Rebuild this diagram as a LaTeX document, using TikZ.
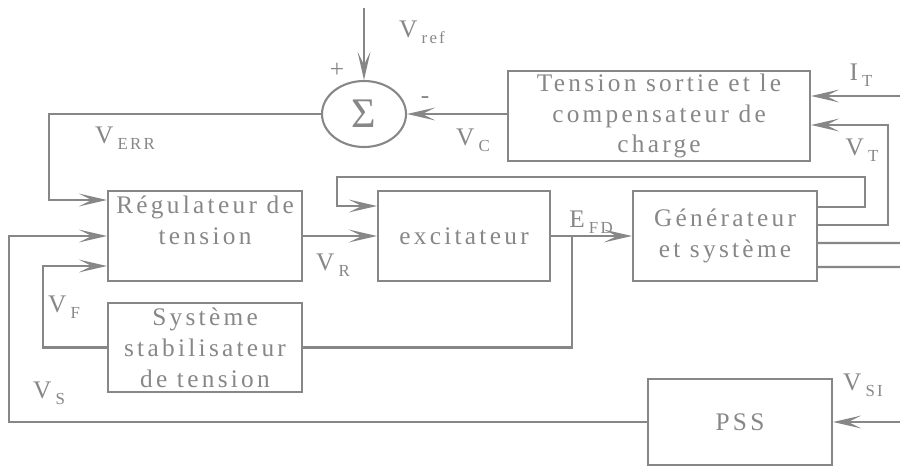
\documentclass[tikz,border=0pt]{standalone}
\usepackage{fontspec}
\setmainfont[LetterSpace=13]{Liberation Serif}
\usepackage{xcolor}
\usepackage{tikz}
\usetikzlibrary{arrows.meta}
\usetikzlibrary{shapes.geometric}
\usetikzlibrary{calc}
\definecolor{trait}{RGB}{135,135,135}
\newcommand{\sig}[2]{#1\,\raisebox{-0.5ex}{\fontsize{12}{14}\selectfont #2}}
\tikzset{
  bloc/.style={draw=trait, line width=1.5pt, text=trait, align=center, minimum width=#1, minimum height=2.25cm, inner sep=0pt, font=\fontsize{18}{22}\selectfont},
  bloc/.default=4.6cm,
  somme/.style={draw=trait, line width=1.5pt, ellipse, minimum width=2.1cm, minimum height=1.65cm, text=trait, inner sep=0pt},
  fleche/.style={draw=trait, line width=1.5pt, -{Stealth[length=7mm,width=3.2mm,inset=3.2mm]}},
  ligne/.style={draw=trait, line width=1.5pt},
  signal/.style={text=trait, font=\fontsize{18}{20}\selectfont, inner sep=0pt},
}

\begin{document}
\begin{tikzpicture}
  \useasboundingbox (0,0) rectangle (22.5,11.65);
  % blocs
  \node[somme] (sum) at (9.1,8.8) {\fontsize{30}{32}\selectfont Σ};
  \node[bloc=7.55cm] (tens) at (16.475,8.75) {Tension sortie et le\\compensateur de\\charge};
  \node[bloc=4.85cm] (reg) at (5.125,5.75) {Régulateur de\\tension\\~};
  \node[bloc=4.3cm] (exc) at (11.6,5.75) {excitateur};
  \node[bloc=4.6cm] (gen) at (18.125,5.75) {Générateur\\et système};
  \node[bloc=4.85cm, minimum height=2.225cm] (stab) at (5.125,2.9625) {Système\\stabilisateur\\de tension};
  \node[bloc=4.6cm, minimum height=2.15cm] (pss) at (18.5,1.1) {PSS};

  % signaux
  \node[signal] (lref) at (10.55,10.85) {\sig{V}{ref}};
  \node[signal] (plus) at (8.425,9.9) {+};
  \node[signal] (moins) at (10.625,9.15) {-};
  \node[signal] (lerr) at (3.125,8.2) {\sig{V}{ERR}};
  \node[signal] (lc) at (11.825,8.15) {\sig{V}{C}};
  \node[signal] (lit) at (21.525,9.775) {\sig{I}{T}};
  \node[signal] (lvt) at (21.55,7.9) {\sig{V}{T}};
  \node[signal] (lfd) at (14.775,6.1) {\sig{E}{FD}};
  \node[signal] (lr) at (8.325,5.025) {\sig{V}{R}};
  \node[signal] (lf) at (1.6,3.975) {\sig{V}{F}};
  \node[signal] (ls) at (1.225,1.825) {\sig{V}{S}};
  \node[signal] (lsi) at (21.575,2.025) {\sig{V}{SI}};

  % entrees libres
  \coordinate (vref) at (9.1,11.45);
  \coordinate (it) at (22.5,9.25);
  \coordinate (vsi) at (22.5,1.1);
  \coordinate (sort1) at (22.5,5.575);
  \coordinate (sort2) at (22.5,4.975);

  % liaisons
  \draw[fleche] (vref) -- (sum.north);
  \draw[fleche] (tens.west |- sum.east) -- (sum.east);
  \draw[fleche] (sum.west) -| (1.225,6.65) -- ($(reg.west)+(0,0.9)$);
  \draw[fleche] (pss.west) -| (0.225,5.75) -- (reg.west);
  \draw[fleche] (stab.west) -| (1.075,5.0) -- ($(reg.west)+(0,-0.75)$);
  \draw[fleche] (reg.east) -- (exc.west);
  \draw[fleche] (exc.east) -- (gen.west);
  \draw[ligne] (stab.east) -| (14.3,5.75);
  \draw[fleche] ($(gen.east)+(0,0.725)$) -| (21.625,7.225) -| (8.425,6.5) -- ($(exc.west)+(0,0.75)$);
  \draw[fleche] ($(gen.east)+(0,0.275)$) -| (22.2,8.525) -- ($(tens.east)+(0,-0.225)$);
  \draw[ligne] ($(gen.east)+(0,-0.175)$) -- (sort1);
  \draw[ligne] ($(gen.east)+(0,-0.775)$) -- (sort2);
  \draw[fleche] (it) -- ($(tens.east)+(0,0.5)$);
  \draw[fleche] (vsi) -- (pss.east);
\end{tikzpicture}
\end{document}
